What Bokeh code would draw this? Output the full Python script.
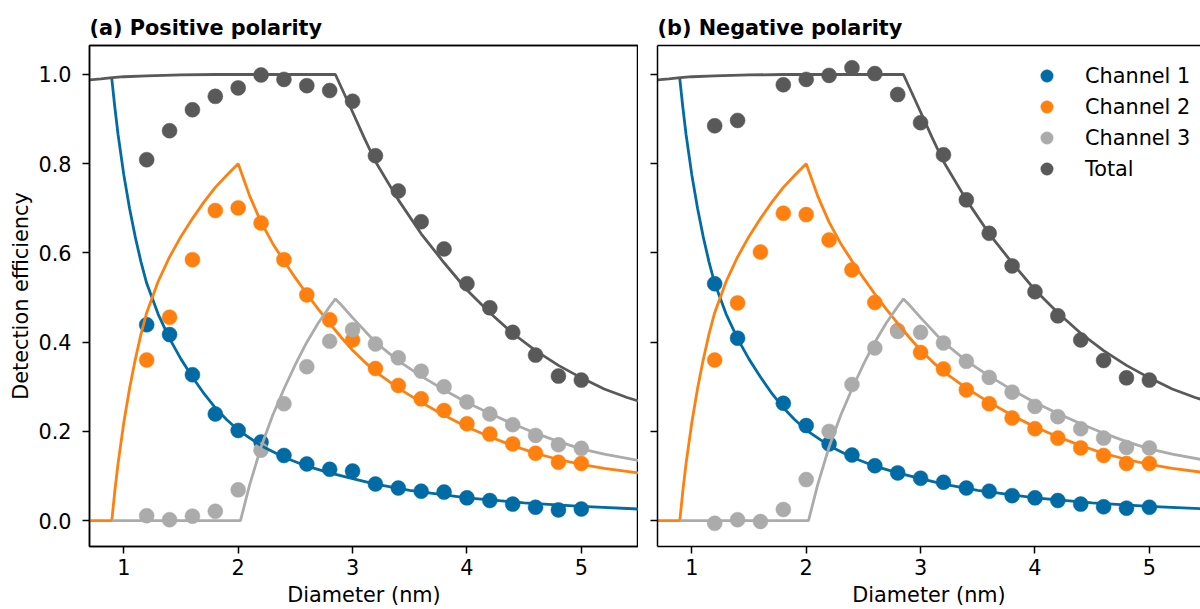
from bokeh.plotting import figure
from bokeh.layouts import row
from bokeh.models import FixedTicker, Range1d, LinearAxis, Legend, LegendItem
from bokeh.embed import file_html
from bokeh.resources import INLINE

nan = float("nan")

# ---------------- data ----------------
series_names = ["Channel 1", "Channel 2", "Channel 3", "Total"]
series_colors = ["#006BA4", "#FF800E", "#ABABAB", "#595959"]
panel_titles = ["(a) Positive polarity", "(b) Negative polarity"]

x_points = [1.2, 1.4, 1.6, 1.8, 2.0, 2.2, 2.4, 2.6, 2.8, 3.0,
            3.2, 3.4, 3.6, 3.8, 4.0, 4.2, 4.4, 4.6, 4.8, 5.0]

pos_ch1 = [0.439, 0.417, 0.327, 0.239, 0.202, 0.176, 0.146, 0.127, 0.115, 0.111,
           0.082, 0.073, 0.066, 0.064, 0.051, 0.045, 0.037, 0.030, 0.024, 0.026]
pos_ch2 = [0.360, 0.456, 0.585, 0.695, 0.701, 0.667, 0.585, 0.506, 0.450, 0.405,
           0.341, 0.303, 0.273, 0.247, 0.217, 0.194, 0.172, 0.151, 0.131, 0.128]
pos_ch3 = [0.011, 0.002, 0.010, 0.021, 0.069, 0.158, 0.262, 0.345, 0.402, 0.428,
           0.396, 0.365, 0.335, 0.300, 0.266, 0.239, 0.215, 0.191, 0.170, 0.162]
pos_tot = [0.809, 0.874, 0.921, 0.951, 0.970, 0.999, 0.989, 0.975, 0.964, 0.940,
           0.818, 0.739, 0.670, 0.609, 0.531, 0.477, 0.422, 0.371, 0.324, 0.315]

neg_ch1 = [0.531, 0.409, nan, 0.263, 0.213, 0.172, 0.147, 0.123, 0.107, 0.095,
           0.086, 0.073, 0.066, 0.056, 0.051, 0.045, 0.037, 0.031, 0.028, 0.030]
neg_ch2 = [0.360, 0.488, 0.602, 0.689, 0.686, 0.629, 0.562, 0.489, 0.426, 0.377,
           0.340, 0.293, 0.262, 0.230, 0.206, 0.185, 0.163, 0.146, 0.128, 0.128]
neg_ch3 = [-0.006, 0.002, -0.002, 0.025, 0.092, 0.200, 0.305, 0.387, 0.424, 0.422,
           0.398, 0.357, 0.321, 0.288, 0.256, 0.233, 0.206, 0.185, 0.164, 0.163]
neg_tot = [0.885, 0.897, nan, 0.977, 0.989, 0.998, 1.015, 1.002, 0.955, 0.892,
           0.820, 0.719, 0.644, 0.571, 0.513, 0.459, 0.405, 0.359, 0.320, 0.315]

# model curves (same in both panels)
line_ch1_x = [0.895, 0.92, 0.95, 1.0, 1.05, 1.1, 1.15, 1.2, 1.3, 1.4, 1.5, 1.6, 1.7, 1.8, 1.9, 2.0,
              2.2, 2.4, 2.6, 2.8, 3.0, 3.2, 3.5, 4.0, 4.5, 5.0, 5.5]
line_ch1_y = [0.99, 0.93, 0.865, 0.775, 0.700, 0.636, 0.580, 0.532, 0.463, 0.408, 0.362, 0.322, 0.285, 0.253, 0.226, 0.203,
              0.168, 0.142, 0.122, 0.107, 0.094, 0.082, 0.068, 0.051, 0.040, 0.032, 0.026]

line_ch2_x = [0.7, 0.895, 0.92, 0.95, 1.0, 1.05, 1.1, 1.15, 1.2, 1.3, 1.4, 1.5, 1.6, 1.7, 1.8, 1.9, 2.0,
              2.1, 2.2, 2.3, 2.4, 2.5, 2.6, 2.7, 2.8, 2.9, 3.0, 3.1, 3.2, 3.4, 3.6, 3.8, 4.0,
              4.2, 4.4, 4.6, 4.8, 5.0, 5.2, 5.5]
line_ch2_y = [0.0, 0.0, 0.063, 0.129, 0.22, 0.296, 0.361, 0.418, 0.466, 0.536, 0.591, 0.637, 0.677, 0.714, 0.747, 0.774, 0.80,
              0.728, 0.669, 0.622, 0.582, 0.544, 0.508, 0.474, 0.442, 0.411, 0.382, 0.357, 0.334, 0.297, 0.265, 0.236, 0.210,
              0.188, 0.168, 0.151, 0.137, 0.126, 0.117, 0.107]

line_ch3_x = [0.895, 2.02, 2.1, 2.2, 2.3, 2.4, 2.5, 2.6, 2.7, 2.8, 2.85, 2.9, 3.0, 3.2, 3.4, 3.6,
              3.8, 4.0, 4.2, 4.4, 4.6, 4.8, 5.0, 5.2, 5.5]
line_ch3_y = [0.0, 0.0, 0.08, 0.165, 0.235, 0.295, 0.35, 0.40, 0.443, 0.48, 0.497, 0.484, 0.455, 0.400, 0.358, 0.324,
              0.293, 0.265, 0.240, 0.217, 0.196, 0.177, 0.161, 0.149, 0.135]

line_tot_x = [0.7, 0.8, 0.9, 1.0, 1.2, 1.5, 1.8, 2.0, 2.5, 2.85, 2.9, 3.0, 3.1, 3.2, 3.4, 3.6,
              3.8, 4.0, 4.2, 4.4, 4.6, 4.8, 5.0, 5.2, 5.4, 5.5]
line_tot_y = [0.988, 0.990, 0.993, 0.995, 0.997, 0.999, 1.0, 1.0, 1.0, 1.0, 0.972, 0.916, 0.859, 0.805, 0.719, 0.643,
              0.578, 0.517, 0.466, 0.420, 0.381, 0.348, 0.320, 0.295, 0.276, 0.268]

x_ticks = [1, 2, 3, 4, 5]
x_tick_labels = ["1", "2", "3", "4", "5"]
y_ticks = [0.0, 0.2, 0.4, 0.6, 0.8, 1.0]
y_tick_labels = ["0.0", "0.2", "0.4", "0.6", "0.8", "1.0"]

x_label = "Diameter (nm)"
y_label = "Detection efficiency"

# ---------------- styling ----------------
FONT = "DejaVu Sans"
FS = "20.8px"
H = 609


def style_axis(ax):
    ax.axis_line_color = "black"
    ax.axis_line_width = 1.5
    ax.major_tick_line_color = "black"
    ax.major_tick_line_width = 1.5
    ax.major_tick_out = 7
    ax.major_tick_in = 0
    ax.minor_tick_line_color = None
    ax.major_label_text_font = FONT
    ax.major_label_text_font_size = FS
    ax.major_label_text_color = "black"
    ax.axis_label_text_font = FONT
    ax.axis_label_text_font_size = FS
    ax.axis_label_text_font_style = "normal"
    ax.axis_label_text_color = "black"


def make_panel(title, pts, x_end, frame_w, min_left, first):
    p = figure(width=min_left + frame_w, height=H,
               x_range=Range1d(0.7, x_end), y_range=Range1d(-0.058, 1.065),
               output_backend="svg", toolbar_location=None,
               min_border_left=min_left, min_border_right=0,
               min_border_top=45, min_border_bottom=63)
    p.grid.visible = False
    p.background_fill_color = "white"
    p.border_fill_color = "white"
    p.outline_line_color = "black" if first else None
    p.outline_line_width = 1.5

    p.title.text = title
    p.title.text_font = FONT
    p.title.text_font_size = FS
    p.title.text_font_style = "bold"
    p.title.text_color = "black"
    p.title.align = "left"
    p.title.standoff = 11

    xa = p.xaxis[0]
    xa.ticker = FixedTicker(ticks=x_ticks)
    xa.major_label_overrides = {t: l for t, l in zip(x_ticks, x_tick_labels)}
    xa.axis_label = x_label
    style_axis(xa)
    xa.major_label_standoff = 5
    xa.axis_label_standoff = 5

    ya = p.yaxis[0]
    ya.ticker = FixedTicker(ticks=y_ticks)
    style_axis(ya)
    if first:
        ya.major_label_overrides = {t: l for t, l in zip(y_ticks, y_tick_labels)}
        ya.major_label_standoff = 11
        ya.axis_label = y_label
        ya.axis_label_standoff = 2
    else:
        ya.major_label_overrides = {t: "" for t in y_ticks}
        ya.major_label_standoff = 0

    top = LinearAxis(ticker=FixedTicker(ticks=[]))
    style_axis(top)
    top.major_tick_out = 0
    top.major_label_standoff = 0
    p.add_layout(top, "above")

    renderers = []
    for y, c in zip(pts, series_colors):
        r = p.scatter(x_points, y, size=15, fill_color=c, line_color=c, line_width=0.5)
        renderers.append(r)

    for lx, ly, c in zip([line_ch1_x, line_ch2_x, line_ch3_x, line_tot_x],
                         [line_ch1_y, line_ch2_y, line_ch3_y, line_tot_y], series_colors):
        p.line(lx, ly, line_color=c, line_width=2.8)

    return p, renderers


p1, _ = make_panel(panel_titles[0], [pos_ch1, pos_ch2, pos_ch3, pos_tot], 5.5, 549, 89, True)
p2, rends = make_panel(panel_titles[1], [neg_ch1, neg_ch2, neg_ch3, neg_tot], 5.447, 543, 19, False)

legend = Legend(items=[LegendItem(label=n, renderers=[r]) for n, r in zip(series_names, rends)],
                location=(374, 362), border_line_color=None, background_fill_alpha=0,
                glyph_width=31, glyph_height=31, spacing=0, label_standoff=23,
                padding=0, margin=0, label_text_font=FONT, label_text_font_size=FS,
                label_text_color="black")
p2.add_layout(legend)

layout = row(p1, p2)
open("out.html", "w").write(file_html(layout, INLINE))
